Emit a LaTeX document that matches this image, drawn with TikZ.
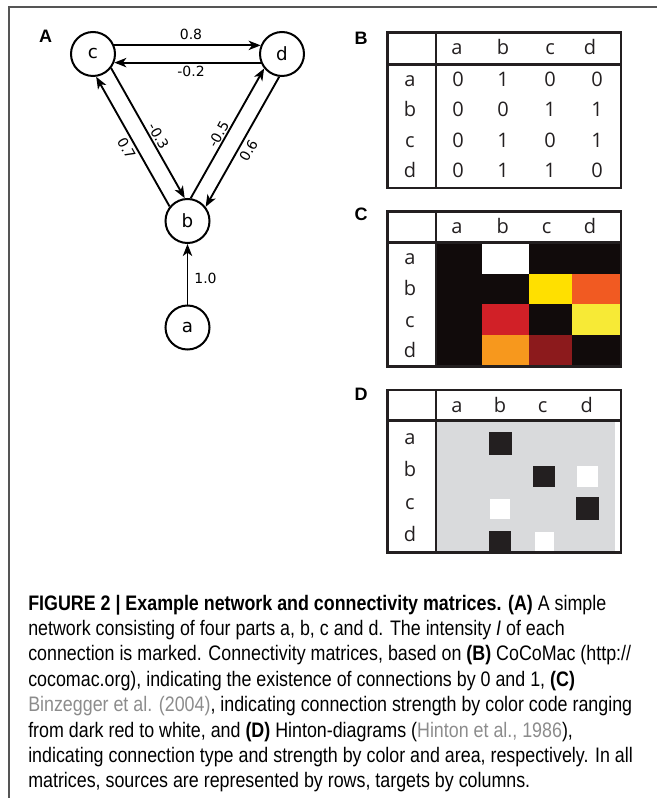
\documentclass[tikz,border=0pt]{standalone}
\usepackage{fontspec}
\usetikzlibrary{arrows.meta,calc}
\newfontfamily\netfont{DejaVu Sans}
\newfontfamily\tabfont{Open Sans}
\newfontfamily\panfont{Liberation Sans}
\newfontfamily\capfont{Liberation Sans}[FakeStretch=0.85]

\definecolor{ink}{HTML}{231F20}
\definecolor{cblack}{HTML}{110B0B}
\definecolor{cyellow}{HTML}{FFE000}
\definecolor{corange}{HTML}{F15A22}
\definecolor{cred}{HTML}{D12027}
\definecolor{cpale}{HTML}{F7EA36}
\definecolor{camber}{HTML}{F7981D}
\definecolor{cdark}{HTML}{8C1A1C}
\definecolor{hgray}{HTML}{D9DADC}
\definecolor{citegray}{HTML}{8C8C8C}
\definecolor{framegray}{HTML}{555555}

\tikzset{
  unit/.style={circle, draw, line width=1.5pt, minimum size=33pt, inner sep=0pt,
    font=\netfont\fontsize{13.7pt}{16pt}\selectfont},
  link/.style={line width=1.4pt, -{Stealth[length=9pt, width=7pt, inset=2.5pt]}},
  elab/.style={inner sep=0pt, font=\netfont\fontsize{10.5pt}{12pt}\selectfont},
  panel/.style={inner sep=0pt, font=\panfont\bfseries\fontsize{13.5pt}{16pt}\selectfont},
  tab/.style={line width=2pt, draw=ink},
  tabtxt/.style={inner sep=0pt, anchor=base, text=ink, font=\tabfont\fontsize{15pt}{18pt}\selectfont},
  capline/.style={inner sep=0pt, anchor=base west, font=\capfont\fontsize{15.75pt}{19pt}\selectfont},
}

\begin{document}
\begin{tikzpicture}[x=0.75pt, y=-0.75pt]
\useasboundingbox (0,0) rectangle (657,798);

% outer frame
\draw[framegray, line width=1pt] (9,798) -- (9,7) -- (657,7);

% ---------------- panel A: the network ----------------
\node[panel] (labA) at (45.5,36) {A};
\node[unit] (c) at (93,54) {c};
\node[unit] (d) at (282,54) {d};
\node[unit] (b) at (187.5,221) {b};
\node[unit] (a) at (187.5,327.5) {a};

\draw[link] (c.22) -- (d.158);
\draw[link] (d.-158) -- (c.-22);
\draw[link] (c.-38.4) -- (b.97.6);
\draw[link] (b.141.6) -- (c.-82.4);
\draw[link] (d.-97.5) -- (b.38.5);
\draw[link] (b.82.5) -- (d.-141.5);
\draw[link] (a.north) -- (b.south);

\node[elab] (w-cd) at (191,34) {0.8};
\node[elab] (w-dc) at (191,71) {-0.2};
\node[elab, rotate=-60.4] (w-cb) at (158.5,136.2) {-0.3};
\node[elab, rotate=-60.4] (w-bc) at (126.5,148.5) {0.7};
\node[elab, rotate=60.5] (w-bd) at (218.5,134.2) {-0.5};
\node[elab, rotate=60.5] (w-db) at (248.5,150.5) {0.6};
\node[elab] (w-ab) at (205.5,278.5) {1.0};

% ---------------- panel B: binary matrix ----------------
\node[panel] (labB) at (361,38.5) {B};
\draw[tab] (387.7,32.7) rectangle (621,188);
\draw[tab] (436,32.7) -- (436,188);
\draw[tab] (387.7,64.3) -- (621,64.3);
\foreach \l/\x in {a/457,b/503,c/550,d/590}
  \node[tabtxt] (Bh\l) at (\x,55) {\l};
\foreach \l/\y in {a/86.7,b/117,c/147.3,d/177.5}
  \node[tabtxt] (Br\l) at (410,\y) {\l};
\foreach \y/\r/\va/\vb/\vc/\vd in {86.7/a/0/1/0/0, 117/b/0/0/1/1, 147.3/c/0/1/0/1, 177.5/d/0/1/1/0}{
  \node[tabtxt] (B\r a) at (458,\y) {\va};
  \node[tabtxt] (B\r b) at (503,\y) {\vb};
  \node[tabtxt] (B\r c) at (550,\y) {\vc};
  \node[tabtxt] (B\r d) at (597,\y) {\vd};
}

% ---------------- panel C: colour-coded strengths ----------------
\node[panel] (labC) at (361,214.5) {C};
% cell grid: columns 436|481.7|529|572.3|620, rows 242.7|274|304.3|335|366.7
\fill[cblack] (436,242.7) rectangle (620,366.7);
\fill[white]   (481.7,242.7) rectangle (529,274);
\fill[cyellow] (529,274) rectangle (572.3,304.3);
\fill[corange] (572.3,274) rectangle (620,304.3);
\fill[cred]    (481.7,304.3) rectangle (529,335);
\fill[cpale]   (572.3,304.3) rectangle (620,335);
\fill[camber]  (481.7,335) rectangle (529,366.7);
\fill[cdark]   (529,335) rectangle (572.3,366.7);
\draw[tab] (387.7,211.7) rectangle (621,366.7);
\draw[tab] (436,211.7) -- (436,366.7);
\draw[tab] (387.7,242.7) -- (621,242.7);
\foreach \l/\x in {a/457,b/502.7,c/546.7,d/590}
  \node[tabtxt] (Ch\l) at (\x,233.3) {\l};
\foreach \l/\y in {a/265,b/296,c/327.3,d/357.3}
  \node[tabtxt] (Cr\l) at (410,\y) {\l};

% ---------------- panel D: Hinton diagram ----------------
\node[panel] (labD) at (361,394) {D};
\fill[hgray] (436,420.7) rectangle (615,551.7);
\fill[ink]   (489,431.7) rectangle (512,454.7);
\fill[ink]   (532.7,466) rectangle (555,486.7);
\fill[white] (577,466) rectangle (597.7,486.7);
\fill[white] (490,498.7) rectangle (510,518.7);
\fill[ink]   (576,497) rectangle (599,519.7);
\fill[ink]   (489,531) rectangle (511,551.7);
\fill[white] (535,532.3) rectangle (553.7,550.7);
\draw[tab] (387.7,390) rectangle (621,552.7);
\draw[tab] (436,390) -- (436,552.7);
\draw[tab] (387.7,420.7) -- (621,420.7);
\foreach \l/\x in {a/457,b/500,c/542.7,d/586.7}
  \node[tabtxt] (Dh\l) at (\x,412.3) {\l};
\foreach \l/\y in {a/444,b/476.7,c/509.3,d/541.7}
  \node[tabtxt] (Dr\l) at (410,\y) {\l};

% ---------------- caption ----------------
\node[capline] (cap1) at (28,610) {\textbf{FIGURE 2 | Example network and connectivity matrices. (A)} A simple};
\node[capline] (cap2) at (28,635.4) {network consisting of four parts a, b, c and d. The intensity \textit{I} of each};
\node[capline] (cap3) at (28,660.8) {connection is marked. Connectivity matrices, based on \textbf{(B)} CoCoMac (http://};
\node[capline] (cap4) at (28,686.2) {cocomac.org), indicating the existence of connections by 0 and 1, \textbf{(C)}};
\node[capline] (cap5) at (28,711.6) {\textcolor{citegray}{Binzegger et al. (2004)}, indicating connection strength by color code ranging};
\node[capline] (cap6) at (28,737) {from dark red to white, and \textbf{(D)} Hinton-diagrams (\textcolor{citegray}{Hinton et al., 1986}),};
\node[capline] (cap7) at (28,762.4) {indicating connection type and strength by color and area, respectively. In all};
\node[capline] (cap8) at (28,787.8) {matrices, sources are represented by rows, targets by columns.};
\end{tikzpicture}
\end{document}
